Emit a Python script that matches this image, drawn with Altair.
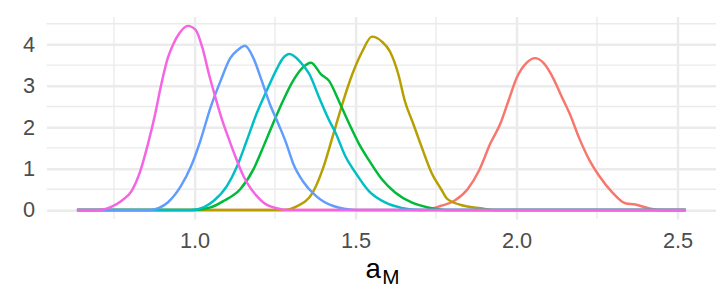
import altair as alt
import pandas as pd

# ---- data (density curves) ----
groups = ["1", "2", "3", "4", "5", "6"]
colors = ["#F8766D", "#B79F00", "#00BA38", "#00BFC4", "#619CFF", "#F564E3"]

x1 = [0.635, 1.715, 1.766, 1.807, 1.848, 1.883, 1.919, 1.950, 1.975, 2.001, 2.032, 2.057, 2.083,
      2.113, 2.139, 2.165, 2.195, 2.226, 2.257, 2.298, 2.338, 2.369, 2.410, 2.44, 2.525]
y1 = [0, 0, 0.10, 0.22, 0.50, 0.94, 1.61, 2.09, 2.64, 3.20, 3.56, 3.67, 3.56,
      3.20, 2.76, 2.33, 1.73, 1.21, 0.82, 0.42, 0.16, 0.13, 0.04, 0, 0]

x2 = [0.635, 1.28, 1.316, 1.367, 1.398, 1.429, 1.459, 1.490, 1.521, 1.551, 1.582, 1.607, 1.633,
      1.653, 1.679, 1.705, 1.736, 1.766, 1.786, 1.837, 1.889, 1.93, 2.525]
y2 = [0, 0, 0.08, 0.42, 0.98, 1.77, 2.56, 3.28, 3.83, 4.19, 4.07, 3.83, 3.28,
      2.64, 2.09, 1.53, 0.90, 0.50, 0.26, 0.10, 0.04, 0, 0]

x3 = [0.635, 1.0, 1.05, 1.091, 1.142, 1.183, 1.214, 1.244, 1.275, 1.306, 1.336, 1.362, 1.393,
      1.418, 1.449, 1.480, 1.510, 1.541, 1.582, 1.623, 1.674, 1.725, 1.78, 2.525]
y3 = [0, 0, 0.06, 0.22, 0.50, 0.98, 1.53, 2.09, 2.64, 3.12, 3.44, 3.56, 3.28,
      3.12, 2.62, 2.09, 1.61, 1.21, 0.74, 0.42, 0.18, 0.06, 0, 0]

x4 = [0.635, 0.99, 1.03, 1.060, 1.101, 1.132, 1.163, 1.193, 1.224, 1.255, 1.275, 1.295, 1.326,
      1.357, 1.387, 1.418, 1.439, 1.469, 1.5, 1.541, 1.592, 1.643, 1.70, 2.525]
y4 = [0, 0, 0.07, 0.22, 0.58, 1.05, 1.69, 2.33, 2.88, 3.40, 3.67, 3.77, 3.60,
      3.28, 2.72, 2.17, 1.85, 1.29, 0.90, 0.46, 0.18, 0.05, 0, 0]

x5 = [0.635, 0.86, 0.89, 0.917, 0.958, 0.989, 1.019, 1.050, 1.081, 1.111, 1.135, 1.157, 1.183,
      1.209, 1.234, 1.260, 1.285, 1.306, 1.336, 1.377, 1.429, 1.50, 2.525]
y5 = [0, 0, 0.05, 0.18, 0.58, 1.05, 1.69, 2.48, 3.12, 3.67, 3.87, 3.97, 3.67,
      3.12, 2.56, 2.09, 1.61, 1.13, 0.70, 0.34, 0.10, 0, 0]

x6 = [0.635, 0.70, 0.743, 0.774, 0.805, 0.830, 0.856, 0.876, 0.897, 0.917, 0.933, 0.953, 0.979,
      1.004, 1.025, 1.045, 1.065, 1.086, 1.106, 1.127, 1.152, 1.163, 1.193, 1.214, 1.255, 1.29, 2.525]
y6 = [0, 0, 0.08, 0.22, 0.46, 0.90, 1.61, 2.25, 3.04, 3.67, 3.99, 4.27, 4.45,
      4.35, 3.91, 3.28, 2.72, 2.17, 1.73, 1.29, 0.82, 0.66, 0.34, 0.18, 0.04, 0, 0]

x_ticks = [1.0, 1.5, 2.0, 2.5]
y_ticks = [0, 1, 2, 3, 4]
x_minor = [0.75, 1.25, 1.75, 2.25]
y_minor = [0.5, 1.5, 2.5, 3.5, 4.5]

xs = [x1, x2, x3, x4, x5, x6]
ys = [y1, y2, y3, y4, y5, y6]
rows = []
for g, xx, yy in zip(groups, xs, ys):
    for a, b in zip(xx, yy):
        rows.append({"g": g, "x": a, "y": b})
df = pd.DataFrame(rows)

W, H = 678, 205
xscale = alt.Scale(domain=[0.5405, 2.6195], nice=False, zero=False)
yscale = alt.Scale(domain=[-0.2225, 4.6725], nice=False, zero=False)
FONT = "Liberation Sans"
GRID = "#EBEBEB"

xaxis = alt.Axis(values=x_ticks, format=".1f", title=None, grid=True, gridColor=GRID,
                 gridWidth=2.5, domain=False, ticks=False, labelFontSize=22,
                 labelColor="#4D4D4D", labelFont=FONT, labelPadding=12)
yaxis = alt.Axis(values=y_ticks, format="d", title=None, grid=True, gridColor=GRID,
                 gridWidth=2.5, domain=False, ticks=False, labelFontSize=22,
                 labelColor="#4D4D4D", labelFont=FONT, labelPadding=12)

xminor = alt.Chart(pd.DataFrame({"v": x_minor})).mark_rule(color=GRID, strokeWidth=1.4).encode(
    x=alt.X("v:Q", scale=xscale, axis=xaxis))
yminor = alt.Chart(pd.DataFrame({"v": y_minor})).mark_rule(color=GRID, strokeWidth=1.4).encode(
    y=alt.Y("v:Q", scale=yscale, axis=yaxis))

lines = alt.Chart(df).mark_line(strokeWidth=2.5, interpolate="monotone").encode(
    x=alt.X("x:Q", scale=xscale, axis=xaxis),
    y=alt.Y("y:Q", scale=yscale, axis=yaxis),
    color=alt.Color("g:N", scale=alt.Scale(domain=groups, range=colors), legend=None),
    order=alt.Order("x:Q"),
)

title_a = alt.Chart(pd.DataFrame({"t": ["a"]})).mark_text(
    align="left", baseline="alphabetic", fontSize=28, font=FONT, color="#000000").encode(
    text="t:N", x=alt.value(323), y=alt.value(265))
title_m = alt.Chart(pd.DataFrame({"t": ["M"]})).mark_text(
    align="left", baseline="alphabetic", fontSize=21, font=FONT, color="#000000").encode(
    text="t:N", x=alt.value(340), y=alt.value(271))

chart = alt.layer(xminor, yminor, lines, title_a, title_m).properties(
    width=W, height=H,
    background="white",
    autosize=alt.AutoSizeParams(type="none"),
    padding={"left": 39, "top": 7, "right": 0, "bottom": 70},
).configure_view(stroke=None)

chart.save("out.html", embed_options={"renderer": "svg", "actions": False})
